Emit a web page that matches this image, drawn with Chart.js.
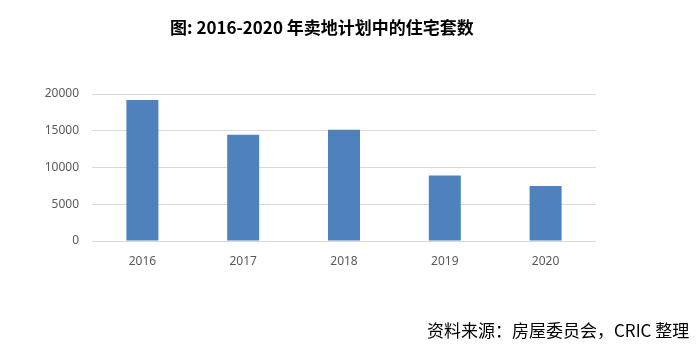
<!DOCTYPE html>
<html><head><meta charset="utf-8">
<script src="https://cdn.jsdelivr.net/npm/chart.js@4"></script>
<style>
html,body{margin:0;padding:0;background:#fff;}
#wrap{position:relative;width:697px;height:345px;}
#title{position:absolute;left:170px;top:15px;font-family:"Noto Sans CJK SC";font-weight:bold;font-size:17px;color:#000;white-space:nowrap;line-height:24px;}
#foot{position:absolute;left:427px;top:318px;font-family:"Noto Sans CJK SC";font-size:17px;color:#000;white-space:nowrap;line-height:24px;}
canvas{position:absolute;left:0;top:0;}
</style></head>
<body><div id="wrap">
<canvas id="c" width="697" height="345"></canvas>
<div id="title">图: 2016-2020 年卖地计划中的住宅套数</div>
<div id="foot">资料来源：房屋委员会，CRIC 整理</div>
</div>
<script>
const categories = ["2016","2017","2018","2019","2020"];
const values = [19200, 14450, 15150, 8900, 7500];
const yTicks = [0, 5000, 10000, 15000, 20000];

new Chart(document.getElementById('c'), {
  type: 'bar',
  data: { labels: categories, datasets: [{ data: values, backgroundColor: '#4f81bd', barPercentage: 0.635, categoryPercentage: 0.5 }] },
  options: {
    responsive: false, animation: false,
    layout: { padding: { left: 0, right: 101, top: 94, bottom: 74 } },
    plugins: { legend: { display: false }, tooltip: { enabled: false } },
    scales: {
      x: {
        grid: { display: false },
        border: { display: false },
        ticks: { color: '#595959', font: { family: 'Noto Sans', size: 12 }, padding: 5 },
        afterFit: s => { s.height = 30; }
      },
      y: {
        min: 0, max: 20000,
        afterBuildTicks: s => { s.ticks = yTicks.map(v => ({ value: v })); },
        grid: { color: '#d9d9d9', drawTicks: false },
        border: { display: false },
        ticks: { color: '#595959', font: { family: 'Noto Sans', size: 12 }, padding: 13, callback: v => String(v) },
        afterFit: s => { s.width = 92; }
      }
    }
  }
});
</script>
</body></html>
